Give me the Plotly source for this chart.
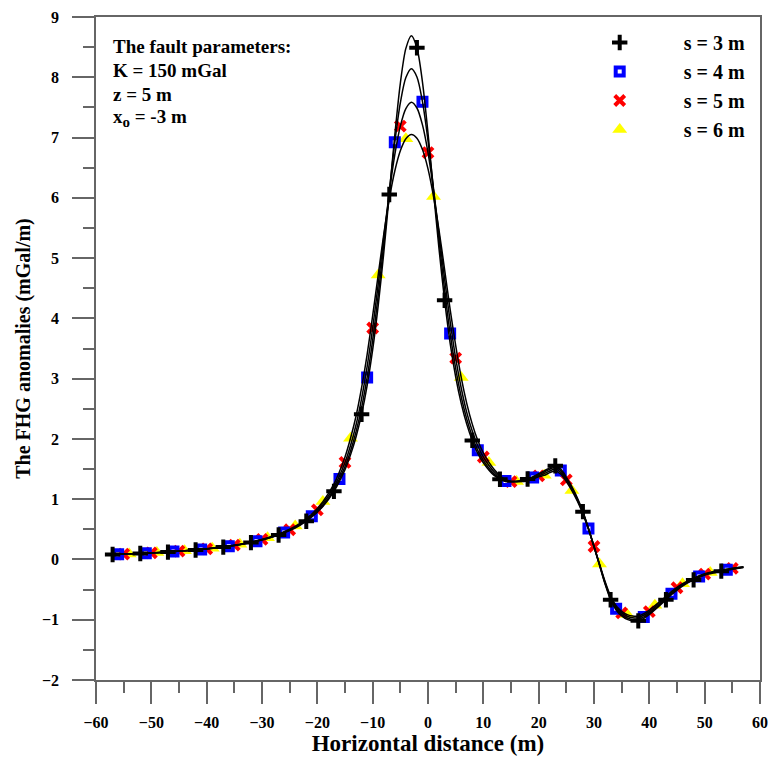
import plotly.graph_objects as go

# ---- curve data ----
x_curve = [-58, -55, -52, -49, -46, -43, -40, -37, -34, -31, -28, -25, -23, -21, -19, -17,
           -15, -14, -13, -12, -11, -10, -9, -8, -7, -6, -5, -4, -3, -2, -1, 0, 1, 2, 3, 4,
           5, 6, 7, 8, 9, 10, 12, 14, 16, 18, 20, 21, 22, 23, 24, 25, 26, 27, 28, 29, 30,
           31, 32, 33, 34, 35, 36, 37, 38, 39, 40, 42, 44, 46, 48, 50, 53, 57]

y_s3 = [0.08, 0.09, 0.10, 0.11, 0.13, 0.149, 0.173, 0.205, 0.245, 0.300, 0.374, 0.479, 0.576, 0.704, 0.88, 1.13,
        1.49, 1.735, 2.035, 2.41, 2.885, 3.48, 4.21, 5.08, 6.055, 7.04, 7.90, 8.48, 8.69, 8.49, 7.92, 7.075, 6.10, 5.145, 4.30, 3.59,
        3.03, 2.59, 2.245, 1.975, 1.76, 1.605, 1.39, 1.295, 1.296, 1.335, 1.423, 1.47, 1.52, 1.553, 1.498, 1.367, 1.207, 1.019, 0.793, 0.519, 0.215,
        -0.097, -0.408, -0.668, -0.838, -0.937, -0.995, -1.022, -1.019, -0.976, -0.912, -0.753, -0.583, -0.441, -0.339, -0.26, -0.194, -0.134]

y_s4 = [0.08, 0.09, 0.10, 0.112, 0.13, 0.150, 0.174, 0.206, 0.247, 0.302, 0.378, 0.486, 0.584, 0.716, 0.90, 1.16,
        1.54, 1.80, 2.12, 2.52, 3.02, 3.64, 4.38, 5.22, 6.10, 6.92, 7.575, 7.995, 8.14, 8.005, 7.595, 6.95, 6.15, 5.29, 4.47, 3.75,
        3.17, 2.70, 2.33, 2.04, 1.81, 1.645, 1.415, 1.30, 1.294, 1.324, 1.407, 1.449, 1.497, 1.529, 1.474, 1.346, 1.188, 1.004, 0.782, 0.513, 0.215,
        -0.091, -0.396, -0.651, -0.818, -0.915, -0.972, -0.999, -0.996, -0.954, -0.891, -0.736, -0.569, -0.43, -0.33, -0.253, -0.189, -0.13]

y_s5 = [0.08, 0.09, 0.10, 0.113, 0.131, 0.151, 0.176, 0.207, 0.249, 0.305, 0.383, 0.493, 0.595, 0.732, 0.93, 1.20,
        1.61, 1.89, 2.235, 2.67, 3.20, 3.84, 4.565, 5.34, 6.08, 6.715, 7.19, 7.48, 7.585, 7.49, 7.21, 6.75, 6.13, 5.40, 4.655, 3.95,
        3.34, 2.845, 2.44, 2.13, 1.885, 1.70, 1.45, 1.31, 1.291, 1.313, 1.388, 1.422, 1.468, 1.499, 1.445, 1.319, 1.165, 0.985, 0.768, 0.506, 0.215,
        -0.084, -0.381, -0.63, -0.793, -0.887, -0.943, -0.969, -0.967, -0.926, -0.865, -0.714, -0.552, -0.417, -0.32, -0.244, -0.182, -0.125]

y_s6 = [0.08, 0.09, 0.10, 0.114, 0.132, 0.152, 0.178, 0.209, 0.252, 0.309, 0.389, 0.503, 0.609, 0.752, 0.96, 1.25,
        1.70, 2.01, 2.38, 2.85, 3.40, 4.045, 4.72, 5.39, 5.98, 6.445, 6.78, 6.98, 7.05, 6.99, 6.80, 6.48, 6.02, 5.455, 4.81, 4.15,
        3.55, 3.02, 2.59, 2.245, 1.975, 1.77, 1.49, 1.325, 1.293, 1.303, 1.371, 1.395, 1.44, 1.468, 1.415, 1.292, 1.142, 0.966, 0.755, 0.499, 0.215,
        -0.076, -0.366, -0.608, -0.767, -0.86, -0.915, -0.94, -0.938, -0.898, -0.839, -0.692, -0.535, -0.403, -0.309, -0.236, -0.175, -0.12]

# ---- marker data ----
x_m3 = [-57, -52, -47, -42, -37, -32, -27, -22, -17, -12, -7, -2, 3, 8, 13, 18, 23, 28, 33, 38, 43, 48, 53]
y_m3 = [0.082, 0.099, 0.122, 0.157, 0.205, 0.280, 0.405, 0.635, 1.13, 2.41, 6.055, 8.49, 4.30, 1.975, 1.33, 1.335,
        1.553, 0.793, -0.668, -1.019, -0.668, -0.339, -0.194]

x_m4 = [-56, -51, -46, -41, -36, -31, -26, -21, -16, -11, -6, -1, 4, 9, 14, 19, 24, 29, 34, 39, 44, 49, 54]
y_m4 = [0.085, 0.103, 0.130, 0.166, 0.22, 0.302, 0.448, 0.716, 1.336, 3.02, 6.92, 7.595, 3.75, 1.81, 1.30, 1.36,
        1.474, 0.513, -0.818, -0.954, -0.569, -0.284, -0.171]

x_m5 = [-55, -50, -45, -40, -35, -30, -25, -20, -15, -10, -5, 0, 5, 10, 15, 20, 25, 30, 35, 40, 45, 50, 55]
y_m5 = [0.088, 0.108, 0.138, 0.177, 0.238, 0.334, 0.493, 0.823, 1.61, 3.84, 7.19, 6.75, 3.34, 1.70, 1.29, 1.388,
        1.319, 0.215, -0.887, -0.865, -0.47, -0.244, -0.149]

x_m6 = [-54, -49, -44, -39, -34, -29, -24, -19, -14, -9, -4, 1, 6, 11, 16, 21, 26, 31, 36, 41, 46, 51]
y_m6 = [0.092, 0.114, 0.144, 0.187, 0.252, 0.36, 0.554, 0.961, 2.01, 4.72, 6.98, 6.02, 3.02, 1.61, 1.293, 1.395,
        1.142, -0.076, -0.915, -0.76, -0.403, -0.216]

legend_names = ["s = 3 m", "s = 4 m", "s = 5 m", "s = 6 m"]
param_lines = ["The fault parameters:", "K = 150 mGal", "z = 5 m",
               "x<sub><span style='font-size:15px'>o</span></sub> = -3 m"]

FONT = "Liberation Serif"

fig = go.Figure()

marker_specs = [
    (x_m6, y_m6, legend_names[3], dict(symbol="triangle-up", size=13, color="#FFFF00", line=dict(width=0)), 4),
    (x_m5, y_m5, legend_names[2], dict(symbol="x-thin", size=10, color="#FF0000", line=dict(width=4, color="#FF0000")), 3),
    (x_m4, y_m4, legend_names[1], dict(symbol="square-open", size=8, color="#0000FF", line=dict(width=4, color="#0000FF")), 2),
    (x_m3, y_m3, legend_names[0], dict(symbol="cross-thin", size=11, color="#000000", line=dict(width=4, color="#000000")), 1),
]
for xs, ys, name, mk, rank in marker_specs:
    fig.add_trace(go.Scatter(x=xs, y=ys, mode="markers", name=name, marker=mk,
                             legendrank=rank, legendgroup=name, showlegend=True))

for ys in (y_s3, y_s4, y_s5, y_s6):
    fig.add_trace(go.Scatter(x=x_curve, y=ys, mode="lines", showlegend=False,
                             line=dict(color="black", width=1.5, shape="spline", smoothing=0.8),
                             hoverinfo="skip"))

# parameter text block, one line per annotation (top-left inside the plot)
line_y = [0.9548, 0.9186, 0.8824, 0.8477]
for txt, yy in zip(param_lines, line_y):
    fig.add_annotation(xref="paper", yref="paper", x=0.022, y=yy, xanchor="left", yanchor="middle",
                       align="left", showarrow=False, text=txt,
                       font=dict(family=FONT, size=19, color="black", weight="bold"))

axis_common = dict(showline=True, linecolor="#666666", linewidth=1.5, mirror=True,
                   ticks="outside", ticklen=22, tickcolor="#666666", tickwidth=1.5,
                   showgrid=False, zeroline=False, automargin=False,
                   tickfont=dict(family=FONT, size=16, color="black", weight="bold"))

fig.update_xaxes(range=[-60, 60], dtick=10, tick0=0, ticklabelstandoff=5,
                 minor=dict(dtick=5, ticks="outside", ticklen=11, tickcolor="#666666", tickwidth=1.5),
                 title=dict(text="Horizontal distance (m)", standoff=2,
                            font=dict(family=FONT, size=23, color="black", weight="bold")),
                 **axis_common)
fig.update_yaxes(range=[-2, 9], dtick=1, tick0=0, ticklabelstandoff=10,
                 minor=dict(dtick=0.5, ticks="outside", ticklen=11, tickcolor="#666666", tickwidth=1.5),
                 title=dict(text="The FHG anomalies (mGal/m)", standoff=6,
                            font=dict(family=FONT, size=20, color="black", weight="bold")),
                 **axis_common)

fig.update_layout(
    width=772, height=761,
    margin=dict(l=96, r=12, t=17, b=81, autoexpand=False),
    plot_bgcolor="white", paper_bgcolor="white",
    legend=dict(x=0.986, y=0.991, xanchor="right", yanchor="top",
                bgcolor="rgba(0,0,0,0)", borderwidth=0, itemwidth=118,
                traceorder="grouped", tracegroupgap=0,
                font=dict(family=FONT, size=20, color="black", weight="bold")),
)

fig.write_html("out.html")
